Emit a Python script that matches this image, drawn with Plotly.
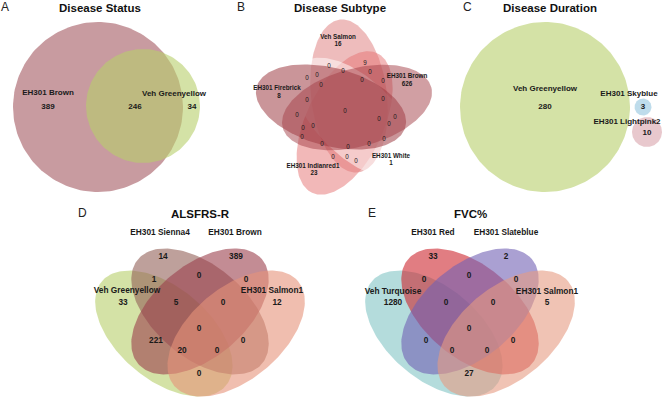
import numpy as np
import plotly.graph_objects as go

W, H = 666, 403
FONT = "Liberation Sans, Arial, sans-serif"

# ---------------- data ----------------
# Panel A: Disease Status
a_sets = ["EH301 Brown", "Veh Greenyellow"]
a_counts = [389, 246, 34]            # Brown only, Brown & Greenyellow, Greenyellow only

# Panel B: Disease Subtype
b_sets = ["Veh Salmon", "EH301 Brown", "EH301 White", "EH301 Indianred1", "EH301 Firebrick"]
b_unique = [16, 626, 1, 23, 8]
b_overlap = [0, 9, 0, 0, 0, 0, 0, 0, 0, 0, 0, 0, 0, 0, 0, 0, 0,
             0, 0, 0, 0, 0, 0, 0, 0, 0]

# Panel C: Disease Duration
c_sets = ["Veh Greenyellow", "EH301 Skyblue", "EH301 Lightpink2"]
c_counts = [280, 3, 10]

# Panel D: ALSFRS-R
d_sets = ["Veh Greenyellow", "EH301 Sienna4", "EH301 Brown", "EH301 Salmon1"]
d_counts = [33, 14, 389, 12, 1, 0, 0, 5, 0, 0, 221, 0, 20, 0, 0]

# Panel E: FVC%
e_sets = ["Veh Turquoise", "EH301 Red", "EH301 Slateblue", "EH301 Salmon1"]
e_counts = [1280, 33, 2, 5, 0, 0, 0, 0, 0, 0, 0, 0, 0, 0, 27]

titles = ["Disease Status", "Disease Subtype", "Disease Duration", "ALSFRS-R", "FVC%"]
letters = ["A", "B", "C", "D", "E"]

# ---------------- layout helpers ----------------
def ell(cx, cy, a, b, ang):
    t = np.linspace(0, 2 * np.pi, 181)
    p = np.radians(ang)
    x = cx + a * np.cos(t) * np.cos(p) - b * np.sin(t) * np.sin(p)
    y = cy - (a * np.cos(t) * np.sin(p) + b * np.sin(t) * np.cos(p))
    return x, y

fig = go.Figure()

def shape(x, y, color, alpha=0.6):
    fig.add_trace(go.Scatter(x=x, y=y, mode="lines", fill="toself",
                             fillcolor=f"rgba({color[0]},{color[1]},{color[2]},{alpha})",
                             line=dict(width=0), hoverinfo="skip", showlegend=False))

def texts(xs, ys, labels, size, bold=True, color="#1a1a1a"):
    fig.add_trace(go.Scatter(x=xs, y=ys, mode="text", text=[str(v) for v in labels],
                             textposition="middle center", cliponaxis=False,
                             textfont=dict(family=FONT, size=size, color=color,
                                           weight="bold" if bold else "normal"),
                             hoverinfo="skip", showlegend=False))

# ---------- Panel A ----------
shape(*ell(98, 107, 85, 85, 0), (163, 88, 97))
shape(*ell(143, 106, 57, 57, 0), (183, 207, 107))
texts([48, 174], [93, 94], a_sets, 8)
texts([48, 135, 192], [107, 107, 107], a_counts, 8)

# ---------- Panel B ----------
b_ell = [  # cx, cy, a, b, angle, colour  (drawing order)
    (349, 96, 77, 38, 96.75, (222, 122, 122)),    # Veh Salmon
    (344.6, 123, 77, 39, 245, (230, 113, 113)),   # EH301 Indianred1
    (356, 118, 77, 39, 316, (255, 255, 255)),     # EH301 White
    (331, 107, 77, 39, 165, (150, 43, 52)),       # EH301 Firebrick
    (357, 107.5, 77, 39, 15.3, (163, 63, 72)),    # EH301 Brown
]
for cx, cy, a, b, ang, col in b_ell:
    shape(*ell(cx, cy, a, b, ang), col, 0.5)
b_lab_xy = [(338, 37), (407, 76), (391, 156), (313, 166), (277, 88)]
b_num_xy = [(338, 44), (407, 84), (391, 163), (314, 173), (279, 96)]
texts([p[0] for p in b_lab_xy], [p[1] for p in b_lab_xy], b_sets, 6.3)
texts([p[0] for p in b_num_xy], [p[1] for p in b_num_xy], b_unique, 6.3)
b_ov_xy = [(329, 66), (365, 63), (343, 71), (317, 75), (307, 78), (370, 72), (362, 80),
           (383, 81), (321, 85), (307, 100), (383, 99), (345, 111), (297, 115), (395, 117),
           (379, 119), (389, 124), (303, 128), (313, 126), (302, 137), (384, 139),
           (322, 144), (369, 144), (348, 147), (333, 157), (347, 157), (356, 161)]
texts([p[0] for p in b_ov_xy], [p[1] for p in b_ov_xy], b_overlap, 6.3, bold=False)

# ---------- Panel C ----------
shape(*ell(545, 107, 85, 85, 0), (183, 207, 107))
shape(*ell(643, 107, 8.5, 8.5, 0), (147, 197, 222))
shape(*ell(647, 132, 15, 15, 0), (217, 163, 172))
texts([545, 629, 627], [89, 94, 122], c_sets, 8)
texts([545, 643, 647], [107, 107, 133], c_counts, 8)

# ---------- Panels D and E (4-set ellipses) ----------
quad = [(0.35, 0.47, 135), (0.50, 0.57, 135), (0.50, 0.57, 45), (0.65, 0.47, 45)]
SX, SY, Y0 = 241, 221, 322.5

def quad_panel(x0, colors, sets, set_xy, counts):
    for (ux, uy, rot), col in zip(quad, colors):
        x, y = ell(ux, uy, 0.35, 0.20, rot)
        yu = 2 * uy - y          # back to y-up unit coordinates
        shape(x0 + (x - 0.5) * SX, Y0 - (yu - 0.52) * SY, col, 0.6)
    texts([x0 + dx for dx, _ in set_xy], [dy for _, dy in set_xy], sets, 8.3)
    reg = [(-77, 303), (-37, 257), (36, 257), (77, 303), (-46, 280), (-1, 276), (46, 280),
           (-24, 303), (23, 303), (-1, 329), (-44, 341), (43, 341), (-18, 351), (17, 351),
           (-1, 374)]
    texts([x0 + dx for dx, _ in reg], [dy for _, dy in reg], counts, 8.3)

quad_panel(200, [(183, 207, 107), (147, 97, 88), (155, 63, 77), (230, 147, 122)],
           d_sets, [(-73, 291), (-40, 233), (35, 233), (72, 291)], d_counts)
quad_panel(470, [(130, 197, 197), (205, 38, 47), (113, 97, 180), (230, 155, 130)],
           e_sets, [(-77, 292), (-37, 233), (36, 233), (77, 292)], e_counts)

# ---------- titles & panel letters ----------
title_xy = [(100, 8), (340, 8), (550, 8), (200, 214), (470, 214)]
letter_xy = [(5, 7), (241, 7), (467, 7), (82, 213), (372, 213)]
for t, (x, y) in zip(titles, title_xy):
    fig.add_annotation(x=x, y=y, xref="x", yref="y", text=f"<b>{t}</b>", showarrow=False,
                       font=dict(family=FONT, size=11.5, color="#111"))
for t, (x, y) in zip(letters, letter_xy):
    fig.add_annotation(x=x, y=y, xref="x", yref="y", text=t, showarrow=False,
                       font=dict(family=FONT, size=12, color="#222"))

fig.update_layout(width=W, height=H, margin=dict(l=0, r=0, t=0, b=0),
                  paper_bgcolor="white", plot_bgcolor="white",
                  xaxis=dict(range=[0, W], visible=False, fixedrange=True),
                  yaxis=dict(range=[H, 0], visible=False, fixedrange=True),
                  showlegend=False)
fig.write_html("out.html", config={"displayModeBar": False},
               post_script="document.body.style.margin='0px';")
